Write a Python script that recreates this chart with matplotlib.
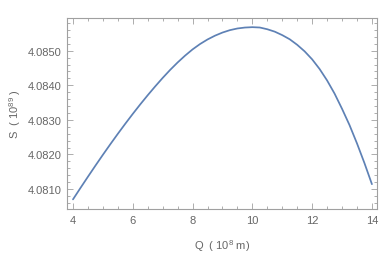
import matplotlib
matplotlib.use("Agg")
import matplotlib.pyplot as plt
from matplotlib.ticker import MultipleLocator, FormatStrFormatter

# Data
q = [4.00, 4.25, 4.50, 4.75, 5.00, 5.25, 5.50, 5.75, 6.00, 6.25, 6.50, 6.75,
     7.00, 7.25, 7.50, 7.75, 8.00, 8.25, 8.50, 8.75, 9.00, 9.25, 9.50, 9.75,
     10.00, 10.25, 10.50, 10.75, 11.00, 11.25, 11.50, 11.75, 12.00, 12.25,
     12.50, 12.75, 13.00, 13.25, 13.50, 13.75, 14.00]
s = [4.080700, 4.081030, 4.081355, 4.081675, 4.081989, 4.082296, 4.082596,
     4.082888, 4.083172, 4.083447, 4.083712, 4.083967, 4.084212, 4.084444,
     4.084659, 4.084857, 4.085037, 4.085192, 4.085324, 4.085434, 4.085524,
     4.085594, 4.085642, 4.085669, 4.085680, 4.085670, 4.085620, 4.085550,
     4.085450, 4.085330, 4.085170, 4.084980, 4.084750, 4.084470, 4.084140,
     4.083760, 4.083320, 4.082850, 4.082320, 4.081750, 4.081140]
x_ticks = [4, 6, 8, 10, 12, 14]
y_ticks = [4.0810, 4.0820, 4.0830, 4.0840, 4.0850]

plt.rcParams['font.family'] = ['Liberation Sans', 'DejaVu Sans']
plt.rcParams['mathtext.fontset'] = 'custom'
plt.rcParams['mathtext.rm'] = 'Liberation Sans'
plt.rcParams['mathtext.it'] = 'Liberation Sans'

fig = plt.figure(figsize=(3.82, 2.55), dpi=100)
ax = fig.add_axes([67/382, 1-210/255, (377-67)/382, (210-19)/255])

ax.plot(q, s, color='#5E81B5', lw=1.25, solid_capstyle='round',
        solid_joinstyle='round')

ax.set_xlim(3.8, 14.17)
ax.set_ylim(4.080422, 4.085945)
ax.set_xticks(x_ticks)
ax.set_yticks(y_ticks)
ax.xaxis.set_minor_locator(MultipleLocator(0.5))
ax.yaxis.set_minor_locator(MultipleLocator(0.0002))
ax.yaxis.set_major_formatter(FormatStrFormatter('%.4f'))

frame_c = '#a0a0a0'
txt_c = '#666666'
for sp in ax.spines.values():
    sp.set_color(frame_c)
    sp.set_linewidth(0.8)
ax.tick_params(which='both', direction='in', top=True, right=True,
               color=frame_c, width=0.6, labelcolor=txt_c, labelsize=8)
ax.tick_params(which='major', length=4, pad=4)
ax.tick_params(which='minor', length=2)

ax.set_xlabel(r'Q  ( $10^{8}$ m)', color=txt_c, fontsize=8, labelpad=9)
ax.set_ylabel(r'S  ( $10^{89}$ )', color=txt_c, fontsize=8, labelpad=3)

fig.savefig('out.png', dpi=100)
